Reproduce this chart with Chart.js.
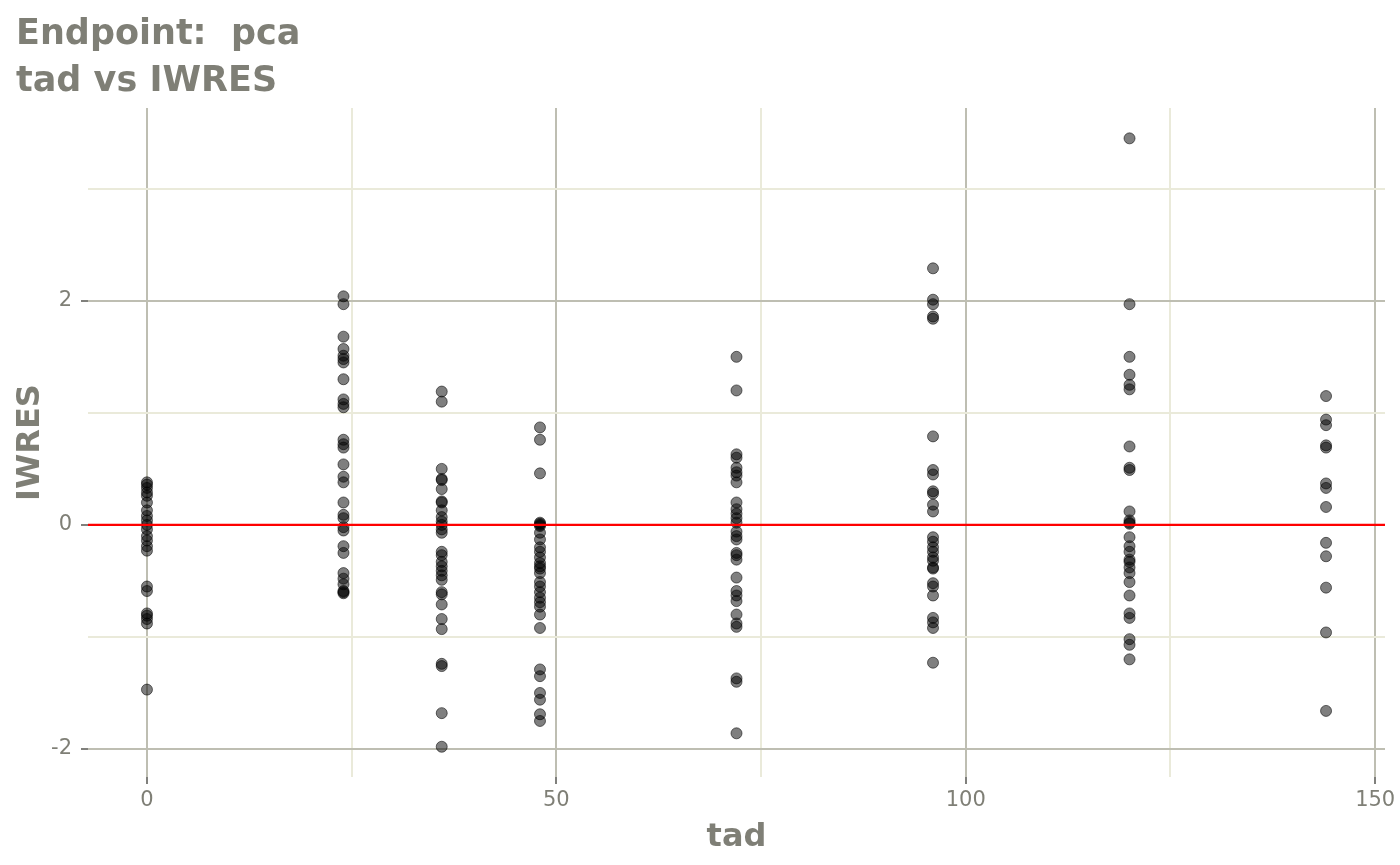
<!DOCTYPE html>
<html>
<head>
<meta charset="utf-8">
<script src="https://cdn.jsdelivr.net/npm/chart.js@4"></script>
<style>
  html, body { margin: 0; padding: 0; background: #ffffff; }
  #wrap { width: 1400px; height: 865px; }
</style>
</head>
<body>
<div id="wrap"><canvas id="chart" width="1400" height="865"></canvas></div>
<script>
// Sampling times (tad) and the IWRES values observed at each one
const tadTimes = [0, 24, 36, 48, 72, 96, 120, 144];

const iwresAt0 = [0.38, 0.36, 0.33, 0.29, 0.26, 0.2, 0.13, 0.08, 0.04, 0.0, -0.04, -0.1, -0.14, -0.19, -0.23, -0.55, -0.59, -0.79, -0.81, -0.84, -0.88, -1.47];
const iwresAt24 = [2.04, 1.97, 1.68, 1.57, 1.51, 1.48, 1.45, 1.3, 1.12, 1.08, 1.05, 0.76, 0.72, 0.69, 0.54, 0.43, 0.38, 0.2, 0.09, 0.06, -0.02, -0.05, -0.19, -0.25, -0.43, -0.48, -0.53, -0.59, -0.6, -0.61];
const iwresAt36 = [1.19, 1.1, 0.5, 0.41, 0.4, 0.32, 0.21, 0.2, 0.13, 0.07, 0.03, 0.0, -0.04, -0.07, -0.24, -0.27, -0.33, -0.37, -0.41, -0.45, -0.49, -0.6, -0.62, -0.71, -0.84, -0.93, -1.24, -1.26, -1.68, -1.98];
const iwresAt48 = [0.87, 0.76, 0.46, 0.02, 0.01, 0.0, -0.01, -0.07, -0.13, -0.2, -0.24, -0.29, -0.34, -0.37, -0.39, -0.43, -0.51, -0.55, -0.6, -0.65, -0.69, -0.73, -0.8, -0.92, -1.29, -1.35, -1.5, -1.56, -1.69, -1.75];
const iwresAt72 = [1.5, 1.2, 0.63, 0.6, 0.51, 0.47, 0.44, 0.38, 0.2, 0.14, 0.1, 0.06, 0.02, -0.06, -0.1, -0.13, -0.25, -0.27, -0.31, -0.47, -0.59, -0.63, -0.68, -0.8, -0.88, -0.91, -1.37, -1.4, -1.86];
const iwresAt96 = [2.29, 2.01, 1.97, 1.86, 1.84, 0.79, 0.49, 0.45, 0.3, 0.28, 0.18, 0.12, -0.11, -0.15, -0.2, -0.24, -0.29, -0.32, -0.38, -0.39, -0.52, -0.55, -0.63, -0.83, -0.87, -0.92, -1.23];
const iwresAt120 = [3.45, 1.97, 1.5, 1.34, 1.25, 1.21, 0.7, 0.51, 0.49, 0.12, 0.04, 0.02, 0.01, -0.11, -0.19, -0.24, -0.31, -0.33, -0.38, -0.43, -0.51, -0.63, -0.79, -0.83, -1.02, -1.07, -1.2];
const iwresAt144 = [1.15, 0.94, 0.89, 0.71, 0.69, 0.37, 0.33, 0.16, -0.16, -0.28, -0.56, -0.96, -1.66];

// Axis ticks (majors get labels, minors only a light grid line)
const xTicks = [0, 25, 50, 75, 100, 125, 150];
const xMajor = [0, 50, 100, 150];
const yTicks = [-2, -1, 0, 1, 2, 3];
const yMajor = [-2, 0, 2];
const refLine = 0;

const TEXT = 'rgb(127,127,118)';
const MAJOR = 'rgb(190,190,178)';
const MINOR = 'rgb(234,234,218)';
const TICK = 'rgb(128,128,124)';

// Flatten the columns into scatter points
const iwresByTime = [iwresAt0, iwresAt24, iwresAt36, iwresAt48, iwresAt72, iwresAt96, iwresAt120, iwresAt144];
const points = [];
tadTimes.forEach((t, i) => {
    iwresByTime[i].forEach(v => points.push({ x: t, y: v }));
});

// Red horizontal reference line at IWRES = 0, drawn over the points
const refLinePlugin = {
    id: 'refLine',
    afterDatasetsDraw(chart) {
        const { ctx, chartArea, scales } = chart;
        const y = scales.y.getPixelForValue(refLine);
        ctx.save();
        ctx.strokeStyle = '#ff0000';
        ctx.lineWidth = 2.2;
        ctx.beginPath();
        ctx.moveTo(chartArea.left, y);
        ctx.lineTo(chartArea.right, y);
        ctx.stroke();
        ctx.restore();
    }
};

new Chart(document.getElementById('chart'), {
    type: 'scatter',
    data: {
        datasets: [{
            label: 'IWRES',
            data: points,
            pointRadius: 5.5,
            pointHoverRadius: 5.5,
            backgroundColor: 'rgba(0,0,0,0.5)',
            borderColor: 'rgba(0,0,0,0.55)',
            borderWidth: 1
        }]
    },
    options: {
        responsive: false,
        animation: false,
        layout: { padding: { left: 16, right: 15, top: 0, bottom: 0 } },
        plugins: {
            legend: { display: false },
            tooltip: { enabled: false },
            title: {
                display: true,
                align: 'start',
                text: ['Endpoint:  pca', 'tad vs IWRES'],
                color: TEXT,
                font: { family: 'DejaVu Sans', size: 35, weight: 'bold', lineHeight: 1.33 },
                padding: { top: 12, bottom: 3 }
            }
        },
        scales: {
            x: {
                type: 'linear',
                min: -7.2,
                max: 151.2,
                afterBuildTicks: (axis) => { axis.ticks = xTicks.map(v => ({ value: v })); },
                afterFit: (axis) => { axis.height = 88; },
                border: { display: false },
                grid: {
                    color: (c) => xMajor.includes(c.tick.value) ? MAJOR : MINOR,
                    tickColor: (c) => xMajor.includes(c.tick.value) ? TICK : 'rgba(0,0,0,0)',
                    lineWidth: 2,
                    tickLength: 7
                },
                ticks: {
                    color: TEXT,
                    padding: 4,
                    maxRotation: 0,
                    font: { family: 'DejaVu Sans', size: 21 },
                    callback: (v) => xMajor.includes(v) ? String(v) : ''
                },
                title: {
                    display: true,
                    text: 'tad',
                    color: TEXT,
                    font: { family: 'DejaVu Sans', size: 32, weight: 'bold', lineHeight: 1.2 },
                    padding: { top: 0, bottom: 8 }
                }
            },
            y: {
                type: 'linear',
                min: -2.25,
                max: 3.72,
                afterBuildTicks: (axis) => { axis.ticks = yTicks.map(v => ({ value: v })); },
                afterFit: (axis) => { axis.width = 72; },
                border: { display: false },
                grid: {
                    color: (c) => yMajor.includes(c.tick.value) ? MAJOR : MINOR,
                    tickColor: (c) => yMajor.includes(c.tick.value) ? TICK : 'rgba(0,0,0,0)',
                    lineWidth: 2,
                    tickLength: 7
                },
                ticks: {
                    color: TEXT,
                    padding: 9,
                    font: { family: 'DejaVu Sans', size: 21 },
                    callback: (v) => yMajor.includes(v) ? String(v) : ''
                },
                title: {
                    display: true,
                    text: 'IWRES',
                    color: TEXT,
                    font: { family: 'DejaVu Sans', size: 32, weight: 'bold', lineHeight: 0.9 },
                    padding: { top: 0, bottom: 0 }
                }
            }
        }
    },
    plugins: [refLinePlugin]
});
</script>
</body>
</html>
